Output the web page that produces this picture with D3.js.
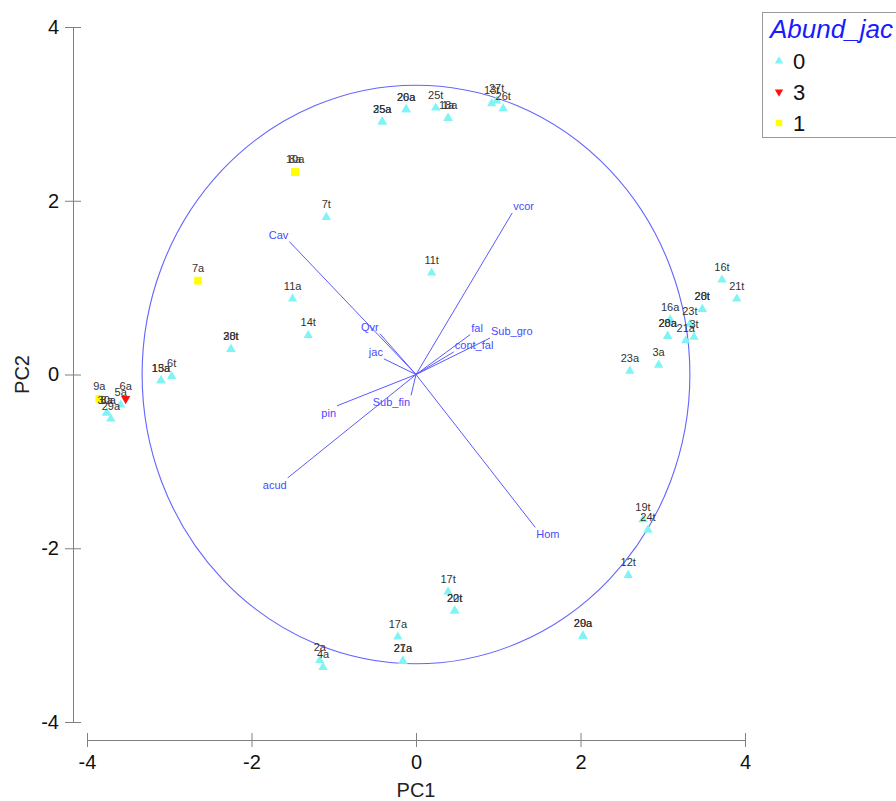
<!DOCTYPE html>
<html lang="en">
<head>
    <meta charset="UTF-8">
    <title>PCA biplot</title>
    <style>
        body { margin: 0; background: #fff; }
        text { font-family: Arial, "Liberation Sans", sans-serif; }
    </style>
</head>
<body>
    <svg id="chart"></svg>

    <script src="https://d3js.org/d3.v7.min.js"></script>
    <script>
        // sample scores (PC1, PC2), label, group of Abund_jac
        const labels = ['5a', '30a', '8a', '29a', '15a', '13a', '6t', '28t', '30t', '11a', '14t', '7t', '11t',
            '35a', '25a', '26a', '20a', '25t', '18a', '1a', '13t', '27t', '26t', '16t', '21t', '28t', '20t',
            '16a', '23t', '3t', '28a', '20a', '21a', '23a', '3a', '19t', '24t', '12t', '29a', '20a',
            '17t', '20t', '22t', '17a', '21a', '27a', '2a', '4a', '6a', '9a', '10a', '8a', '7a'];
        const pc1 = [-3.59, -3.76, -3.76, -3.71, -3.10, -3.10, -2.97, -2.25, -2.25, -1.50, -1.31, -1.09, 0.19,
            -0.41, -0.41, -0.12, -0.12, 0.24, 0.39, 0.39, 0.92, 0.98, 1.06, 3.72, 3.90, 3.48, 3.48,
            3.09, 3.33, 3.38, 3.06, 3.06, 3.28, 2.60, 2.95, 2.76, 2.82, 2.58, 2.03, 2.03,
            0.39, 0.47, 0.47, -0.22, -0.16, -0.16, -1.17, -1.13, -3.53, -3.85, -1.47, -1.47, -2.65];
        const pc2 = [-0.35, -0.44, -0.44, -0.51, -0.07, -0.07, -0.02, 0.29, 0.29, 0.87, 0.45, 1.81, 1.17,
            2.91, 2.91, 3.05, 3.05, 3.07, 2.95, 2.95, 3.12, 3.15, 3.06, 1.09, 0.87, 0.75, 0.75,
            0.63, 0.58, 0.43, 0.44, 0.44, 0.39, 0.04, 0.11, -1.67, -1.79, -2.31, -3.01, -3.01,
            -2.50, -2.72, -2.72, -3.02, -3.30, -3.30, -3.29, -3.37, -0.28, -0.28, 2.33, 2.33, 1.08];
        const groups = ['0', '0', '0', '0', '0', '0', '0', '0', '0', '0', '0', '0', '0',
            '0', '0', '0', '0', '0', '0', '0', '0', '0', '0', '0', '0', '0', '0',
            '0', '0', '0', '0', '0', '0', '0', '0', '0', '0', '0', '0', '0',
            '0', '0', '0', '0', '0', '0', '0', '0', '3', '1', '1', '1', '1'];

        // variable loadings
        const varNames = ['vcor', 'Cav', 'Qvr', 'jac', 'fal', 'Sub_gro', 'cont_fal', 'pin', 'Sub_fin', 'acud', 'Hom'];
        const varX = [1.17, -1.54, -0.44, -0.39, 0.66, 0.90, 0.46, -0.96, -0.06, -1.56, 1.45];
        const varY = [1.86, 1.53, 0.47, 0.18, 0.46, 0.42, 0.26, -0.36, -0.24, -1.19, -1.76];

        const circleRadius = 3.33;
        const ticks = [-4, -2, 0, 2, 4];
        const legendKeys = ['0', '3', '1'];

        const width = 896;
        const height = 801;
        const svg = d3.select('#chart').attr('width', width).attr('height', height);

        const x = d3.scaleLinear().domain([-4, 4]).range([87, 745]);
        const y = d3.scaleLinear().domain([-4, 4]).range([722, 27]);

        const axisColor = '#808080';
        const blue = '#5a5aff';
        const fmt = d => String(d); // plain hyphen minus like the original

        // x axis (detached, below the plot)
        const xAxis = svg.append('g')
            .attr('transform', 'translate(0,740)')
            .call(d3.axisBottom(x).tickValues(ticks).tickFormat(fmt).tickSize(7).tickSizeOuter(0).tickPadding(8));
        xAxis.select('.domain').attr('stroke', axisColor);
        xAxis.selectAll('.tick line').attr('stroke', axisColor).attr('y1', -7);
        xAxis.selectAll('.tick text').attr('font-size', 20).attr('fill', '#111');

        // y axis
        const yAxis = svg.append('g')
            .attr('transform', 'translate(73,0)')
            .call(d3.axisLeft(y).tickValues(ticks).tickFormat(fmt).tickSize(8).tickSizeOuter(0).tickPadding(6));
        yAxis.select('.domain').attr('stroke', axisColor);
        yAxis.selectAll('.tick line').attr('stroke', axisColor).attr('x1', 8);
        yAxis.selectAll('.tick text').attr('font-size', 20).attr('fill', '#111');

        svg.append('text')
            .attr('x', x(0)).attr('y', 797)
            .attr('text-anchor', 'middle').attr('font-size', 20).attr('fill', '#222')
            .text('PC1');
        svg.append('text')
            .attr('transform', `translate(29,${y(0)}) rotate(-90)`)
            .attr('text-anchor', 'middle').attr('font-size', 20).attr('fill', '#222')
            .text('PC2');

        // correlation circle
        svg.append('ellipse')
            .attr('cx', x(0)).attr('cy', y(0))
            .attr('rx', x(circleRadius) - x(0)).attr('ry', y(0) - y(circleRadius))
            .attr('fill', 'none').attr('stroke', '#6464ff').attr('stroke-width', 1.1);

        // loading vectors
        const vars = varNames.map((n, i) => ({ name: n, vx: varX[i], vy: varY[i] }));
        svg.append('g').selectAll('line')
            .data(vars)
            .join('line')
            .attr('x1', x(0)).attr('y1', y(0))
            .attr('x2', d => x(d.vx)).attr('y2', d => y(d.vy))
            .attr('stroke', blue).attr('stroke-width', 1);
        svg.append('g').selectAll('text')
            .data(vars)
            .join('text')
            .attr('x', d => x(d.vx) + (d.vx < 0 ? -1 : 1))
            .attr('y', d => y(d.vy) + (d.vy < 0 ? 11 : -3))
            .attr('text-anchor', d => d.vx < 0 ? 'end' : 'start')
            .attr('font-size', 11).attr('fill', '#4a4aff')
            .text(d => d.name);

        // sample points
        const shapes = {
            '0': { type: d3.symbolTriangle, size: 38, color: '#80f4f4', rot: 0 },
            '3': { type: d3.symbolTriangle, size: 38, color: '#ff1010', rot: 180 },
            '1': { type: d3.symbolSquare, size: 60, color: '#ffff00', rot: 0 },
        };
        const points = labels.map((l, i) => ({ label: l, px: pc1[i], py: pc2[i], g: groups[i] }));

        svg.append('g').selectAll('path')
            .data(points)
            .join('path')
            .attr('d', d => d3.symbol().type(shapes[d.g].type).size(shapes[d.g].size)())
            .attr('transform', d => `translate(${x(d.px)},${y(d.py)}) rotate(${shapes[d.g].rot})`)
            .attr('fill', d => shapes[d.g].color);

        svg.append('g').selectAll('text')
            .data(points)
            .join('text')
            .attr('x', d => x(d.px))
            .attr('y', d => y(d.py) - 9)
            .attr('text-anchor', 'middle')
            .attr('font-size', 11).attr('fill', '#333')
            .text(d => d.label);

        // legend
        const legend = svg.append('g').attr('transform', 'translate(762,12)');
        legend.append('rect')
            .attr('x', 0.5).attr('y', 0.5).attr('width', 160).attr('height', 125)
            .attr('fill', '#fff').attr('stroke', '#999');
        legend.append('text')
            .attr('x', 8).attr('y', 26)
            .attr('font-size', 26).attr('font-style', 'italic').attr('fill', '#1a1aff')
            .text('Abund_jac');
        const items = legend.selectAll('g.item')
            .data(legendKeys)
            .join('g')
            .attr('class', 'item')
            .attr('transform', (d, i) => `translate(0,${49 + i * 31})`);
        items.append('path')
            .attr('d', d => d3.symbol().type(shapes[d].type).size(d === '1' ? 42 : 30)())
            .attr('transform', d => `translate(17,0) rotate(${shapes[d].rot})`)
            .attr('fill', d => shapes[d].color);
        items.append('text')
            .attr('x', 31).attr('y', 8)
            .attr('font-size', 22).attr('fill', '#111')
            .text(d => d);
    </script>
</body>
</html>
